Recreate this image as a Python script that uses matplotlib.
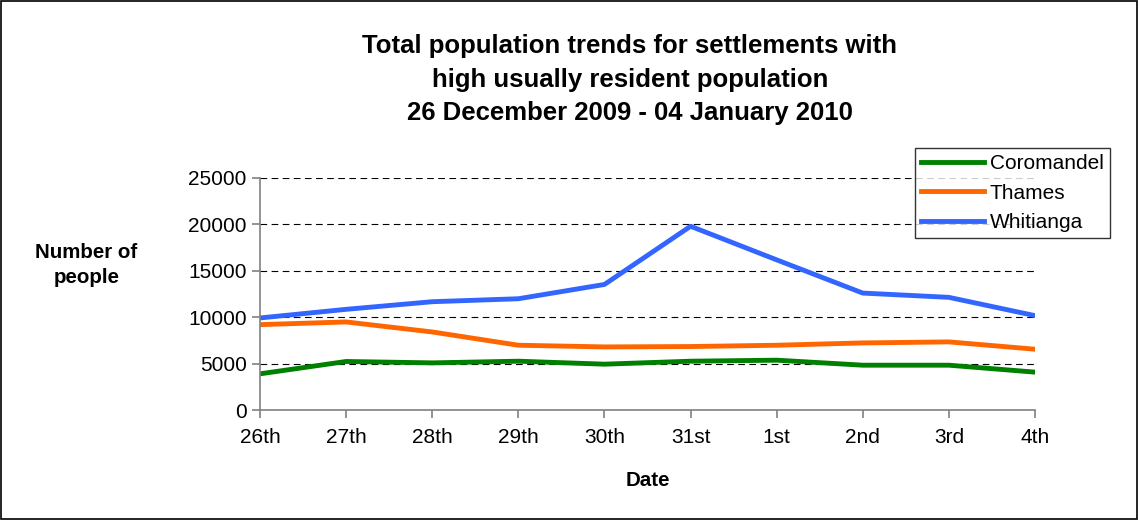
import matplotlib
matplotlib.use("Agg")
import matplotlib.pyplot as plt
from matplotlib.patches import Rectangle

plt.rcParams['font.family'] = ['Liberation Sans', 'DejaVu Sans']

## DATA
dates = ['26th', '27th', '28th', '29th', '30th', '31st', '1st', '2nd', '3rd', '4th']
coromandel = [3900, 5230, 5080, 5260, 4940, 5260, 5370, 4830, 4830, 4080]
thames = [9200, 9490, 8410, 6980, 6800, 6840, 6980, 7230, 7340, 6550]
whitianga = [9920, 10850, 11670, 11990, 13530, 19800, 16180, 12600, 12140, 10170]

## FIGURE
fig = plt.figure(figsize=(11.39, 5.2), dpi=100)
ax = fig.add_axes([0.2283, 0.2115, 0.6804, 0.4462])

x = range(len(dates))
ax.plot(x, coromandel, color='#008000', lw=3.5, label='Coromandel')
ax.plot(x, thames, color='#FF6600', lw=3.5, label='Thames')
ax.plot(x, whitianga, color='#3366FF', lw=3.5, label='Whitianga')

ax.set_xlim(0, len(dates) - 1)
ax.set_ylim(0, 25000)
ax.set_xticks(list(x))
ax.set_xticklabels(dates)
ax.set_yticks(range(0, 25001, 5000))

# dashed gridlines, none at zero
for v in range(5000, 25001, 5000):
    ax.axhline(v, color='black', lw=0.8, ls=(0, (6, 4)), zorder=0)

for s in ['top', 'right']:
    ax.spines[s].set_visible(False)
for s in ['left', 'bottom']:
    ax.spines[s].set_color('#808080')
    ax.spines[s].set_linewidth(1.2)
ax.tick_params(axis='both', colors='#808080', labelcolor='black', labelsize=15,
               length=6, width=1.2, direction='out')
ax.tick_params(axis='x', pad=7)

ax.set_xlabel('Date', fontsize=14.8, fontweight='bold', labelpad=17)
fig.text(0.076, 0.49, 'Number of\npeople', fontsize=14.8, fontweight='bold',
         ha='center', va='center', linespacing=1.4)

fig.text(0.553, 0.847, 'Total population trends for settlements with\nhigh usually resident population\n26 December 2009 - 04 January 2010',
         ha='center', va='center', fontsize=18.5, fontweight='bold', linespacing=1.5)

leg = ax.legend(loc='upper left', bbox_to_anchor=(0.845, 1.129), fontsize=15,
                frameon=True, fancybox=False, edgecolor='black', handlelength=3.0,
                handletextpad=0.3, borderpad=0.3, labelspacing=0.5, borderaxespad=0)
leg.get_frame().set_linewidth(1.0)

# outer border around the chart
fig.patches.append(Rectangle((0.001, 0.002), 0.997, 0.996, transform=fig.transFigure,
                             fill=False, edgecolor='black', lw=1.2))

plt.savefig('out.png', dpi=100)
